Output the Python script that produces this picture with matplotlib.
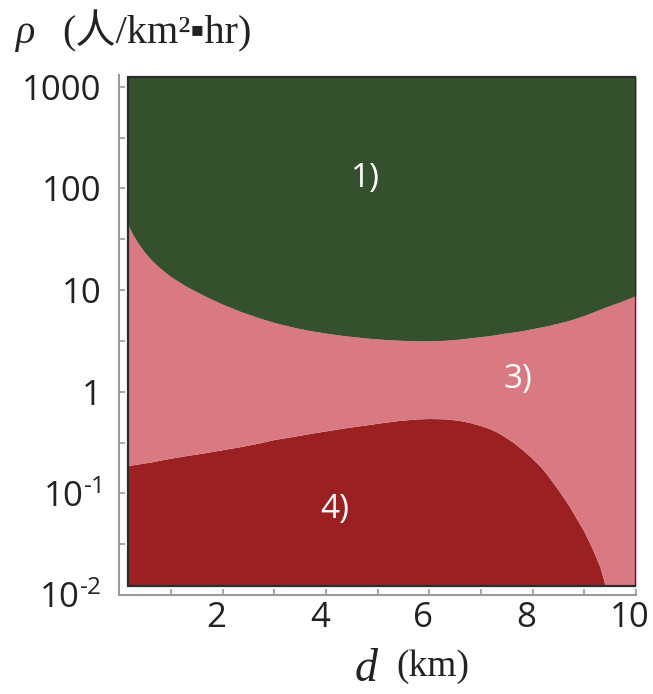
import numpy as np
import matplotlib
matplotlib.use("Agg")
import matplotlib.pyplot as plt
import matplotlib.transforms as mtransforms
from matplotlib.patches import Rectangle

# values (boundaries as log10 of rho)
d_km = [0.17, 0.25, 0.35, 0.5, 0.65, 0.8, 1.0, 1.3, 1.7, 2.0, 2.35, 2.7, 3.0, 3.4, 3.7,
        4.1, 4.4, 4.8, 5.1, 5.4, 5.75, 6.0, 6.3, 6.55, 6.8, 7.0, 7.15, 7.3, 7.45, 7.6,
        7.8, 8.0, 8.15, 8.3, 8.5, 8.7, 8.85, 9.0, 9.15, 9.3, 9.4, 9.7, 10.0]
upper_log = [1.64, 1.555, 1.47, 1.365, 1.28, 1.21, 1.13, 1.035, 0.93, 0.86, 0.788, 0.727, 0.68, 0.63, 0.60,
             0.568, 0.548, 0.527, 0.515, 0.506, 0.50, 0.50, 0.505, 0.515, 0.53, 0.542, 0.55, 0.562, 0.575, 0.585,
             0.60, 0.62, 0.635, 0.65, 0.675, 0.70, 0.725, 0.75, 0.78, 0.81, 0.83, 0.885, 0.945]
lower_log = [-0.727, -0.72, -0.712, -0.70, -0.688, -0.672, -0.654, -0.628, -0.597, -0.57, -0.54, -0.505, -0.47, -0.437, -0.41,
             -0.377, -0.353, -0.325, -0.303, -0.284, -0.268, -0.264, -0.267, -0.28, -0.305, -0.335, -0.36, -0.395, -0.44, -0.49,
             -0.57, -0.66, -0.736, -0.83, -0.97, -1.12, -1.25, -1.38, -1.54, -1.72, -1.9, -1.91, -1.91]
frame_log = (-1.91, 3.1)

region_labels = ["1)", "3)", "4)"]
label_d = [4.77, 7.72, 4.17]
label_log = [2.1, 0.117, -1.16]

ytick_vals = [1e3, 1e2, 1e1, 1, 1e-1, 1e-2]
ytick_text = ["1000", "100", "10", "1", r"10$^{\text{-}1}$", r"10$^{\text{-}2}$"]
xtick_vals = [2, 4, 6, 8, 10]

c_green = "#34502d"
c_pink = "#d97981"
c_red = "#9b2022"

plt.rcParams["mathtext.fontset"] = "custom"
plt.rcParams["mathtext.rm"] = "Open Sans"
plt.rcParams["mathtext.default"] = "regular"

W, H = 653, 694
fig = plt.figure(figsize=(W / 100, H / 100), dpi=100)
ax = fig.add_axes([119.3 / W, 99 / H, 516.7 / W, 520 / H])

d = np.array(d_km)
up = 10 ** np.array(upper_log)
lo = 10 ** np.array(lower_log)
bot, top = 10 ** frame_log[0], 10 ** frame_log[1]

ax.set_yscale("log")
ax.fill_between(d, bot, lo, color=c_red, lw=0, zorder=1)
ax.fill_between(d, lo, up, color=c_pink, lw=0, zorder=1)
ax.fill_between(d, up, top, color=c_green, lw=0, zorder=1)
ax.add_patch(Rectangle((d[0], bot), d[-1] - d[0], top - bot, fill=False,
                       ec="#2b2b2b", lw=1.6, zorder=3))

for t, x, y in zip(region_labels, label_d, label_log):
    ax.text(x, 10 ** y, t, color="white", fontsize=24, family="Open Sans",
            ha="center", va="center", zorder=4)

ax.set_xlim(0, 10)
ax.set_ylim(1e-2, 10 ** 3.115)
for s in ["top", "right"]:
    ax.spines[s].set_visible(False)
for s in ["left", "bottom"]:
    ax.spines[s].set_color("#9a9a9a")
    ax.spines[s].set_linewidth(1.5)

ax.set_xticks(xtick_vals)
ax.set_xticks(range(1, 11, 2), minor=True)
ax.set_yticks(ytick_vals)
ax.set_yticklabels(ytick_text)
ax.set_yticks([10 ** v for v in np.arange(-1.5, 3, 1.0)], minor=True)
ax.yaxis.set_minor_formatter(matplotlib.ticker.NullFormatter())
ax.tick_params(which="both", direction="in", color="#9a9a9a", width=1.2, length=4)
ax.tick_params(axis="y", which="both", pad=13, labelsize=25, labelcolor="#222222")
ax.tick_params(axis="x", which="both", pad=4, labelsize=25, labelcolor="#222222")
shift = mtransforms.ScaledTranslation(-0.06, 0, fig.dpi_scale_trans)
for lab in ax.get_xticklabels():
    lab.set_transform(lab.get_transform() + shift)
for lab in ax.get_xticklabels() + ax.get_yticklabels():
    lab.set_family("Open Sans")

# axis titles
fig.text(15 / W, 1 - 43 / H, "ρ", fontsize=29, style="italic",
         family="Liberation Serif", va="baseline", color="#222222")
fig.text(62 / W, 1 - 43 / H, "(人/km²▪hr)", fontsize=29,
         family=["Liberation Serif", "Noto Sans CJK SC"], va="baseline", color="#222222")
fig.text(355 / W, 1 - 681 / H, "d", fontsize=33, style="italic",
         family="Liberation Serif", va="baseline", color="#222222")
fig.text(396 / W, 1 - 676 / H, "(km)", fontsize=27,
         family="Liberation Serif", va="baseline", color="#222222")

fig.savefig("out.png", dpi=100)
